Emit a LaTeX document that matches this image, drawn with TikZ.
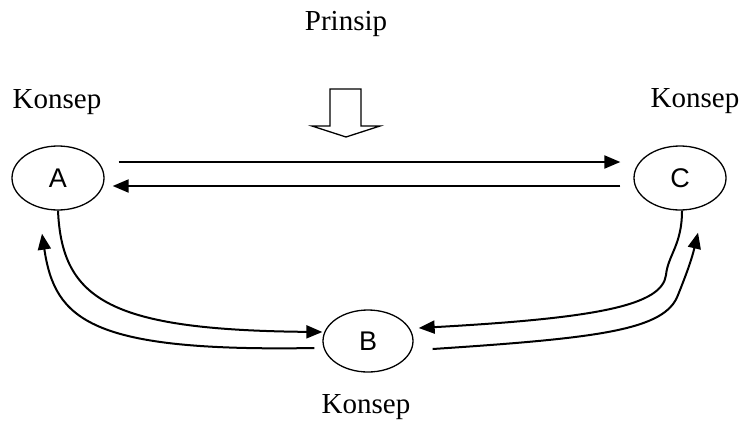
\documentclass[tikz,border=0pt]{standalone}
\usepackage{fontspec}
\setmainfont{Liberation Serif}
\newfontfamily\arialfont{Liberation Sans}
\usetikzlibrary{arrows.meta,shapes.geometric}
\begin{document}
\begin{tikzpicture}[x=1pt,y=-1pt,
  concept/.style={draw,ellipse,line width=1.3pt,minimum width=92pt,minimum height=64pt,inner sep=0pt,font=\arialfont\fontsize{27}{27}\selectfont},
  lbl/.style={font=\fontsize{29}{29}\selectfont,anchor=base,inner sep=0pt},
  arr/.style={line width=2pt,-{Triangle[length=16pt,width=13pt]}}]
\useasboundingbox (0,0) rectangle (743,423);
\node[concept] (A) at (58,178) {A};
\node[concept] (C) at (680,178) {C};
\node[concept, minimum width=90pt, minimum height=62pt] (B) at (368,341) {B};
\node[lbl] (kA) at (57,108) {Konsep};
\node[lbl] (kC) at (695,107) {Konsep};
\node[lbl] (kB) at (366,413) {Konsep};
\node[lbl] (pr) at (346,30) {Prinsip};
% block arrow
\draw[line width=1.3pt] (330,89) -- (361,89) -- (361,126) -- (380,126) -- (346,137) -- (312,126) -- (330,126) -- cycle;
% horizontal arrows
\draw[arr] ([xshift=14pt,yshift=16pt]A.east) -- ([xshift=-13pt,yshift=16pt]C.west);
\draw[arr] ([xshift=-13pt,yshift=-8pt]C.west) -- ([xshift=8pt,yshift=-8pt]A.east);
% A <-> B
\draw[arr] (A.south) .. controls (62,300) and (110,330) .. ([yshift=9pt]B.west);
\draw[arr] ([xshift=-8pt,yshift=-7pt]B.west) .. controls (90,352) and (55,320) .. ([xshift=-16pt,yshift=-23pt]A.south);
% C <-> B
\draw[arr] ([xshift=2pt]C.south) .. controls (682,245) and (668,255) .. (666,275) .. controls (662,305) and (600,318) .. ([xshift=5pt,yshift=13pt]B.east);
\draw[arr] ([xshift=19pt,yshift=-8pt]B.east) .. controls (600,338) and (665,330) .. (678,295) .. controls (688,270) and (692,258) .. ([xshift=18pt,yshift=-22pt]C.south);
\end{tikzpicture}
\end{document}
